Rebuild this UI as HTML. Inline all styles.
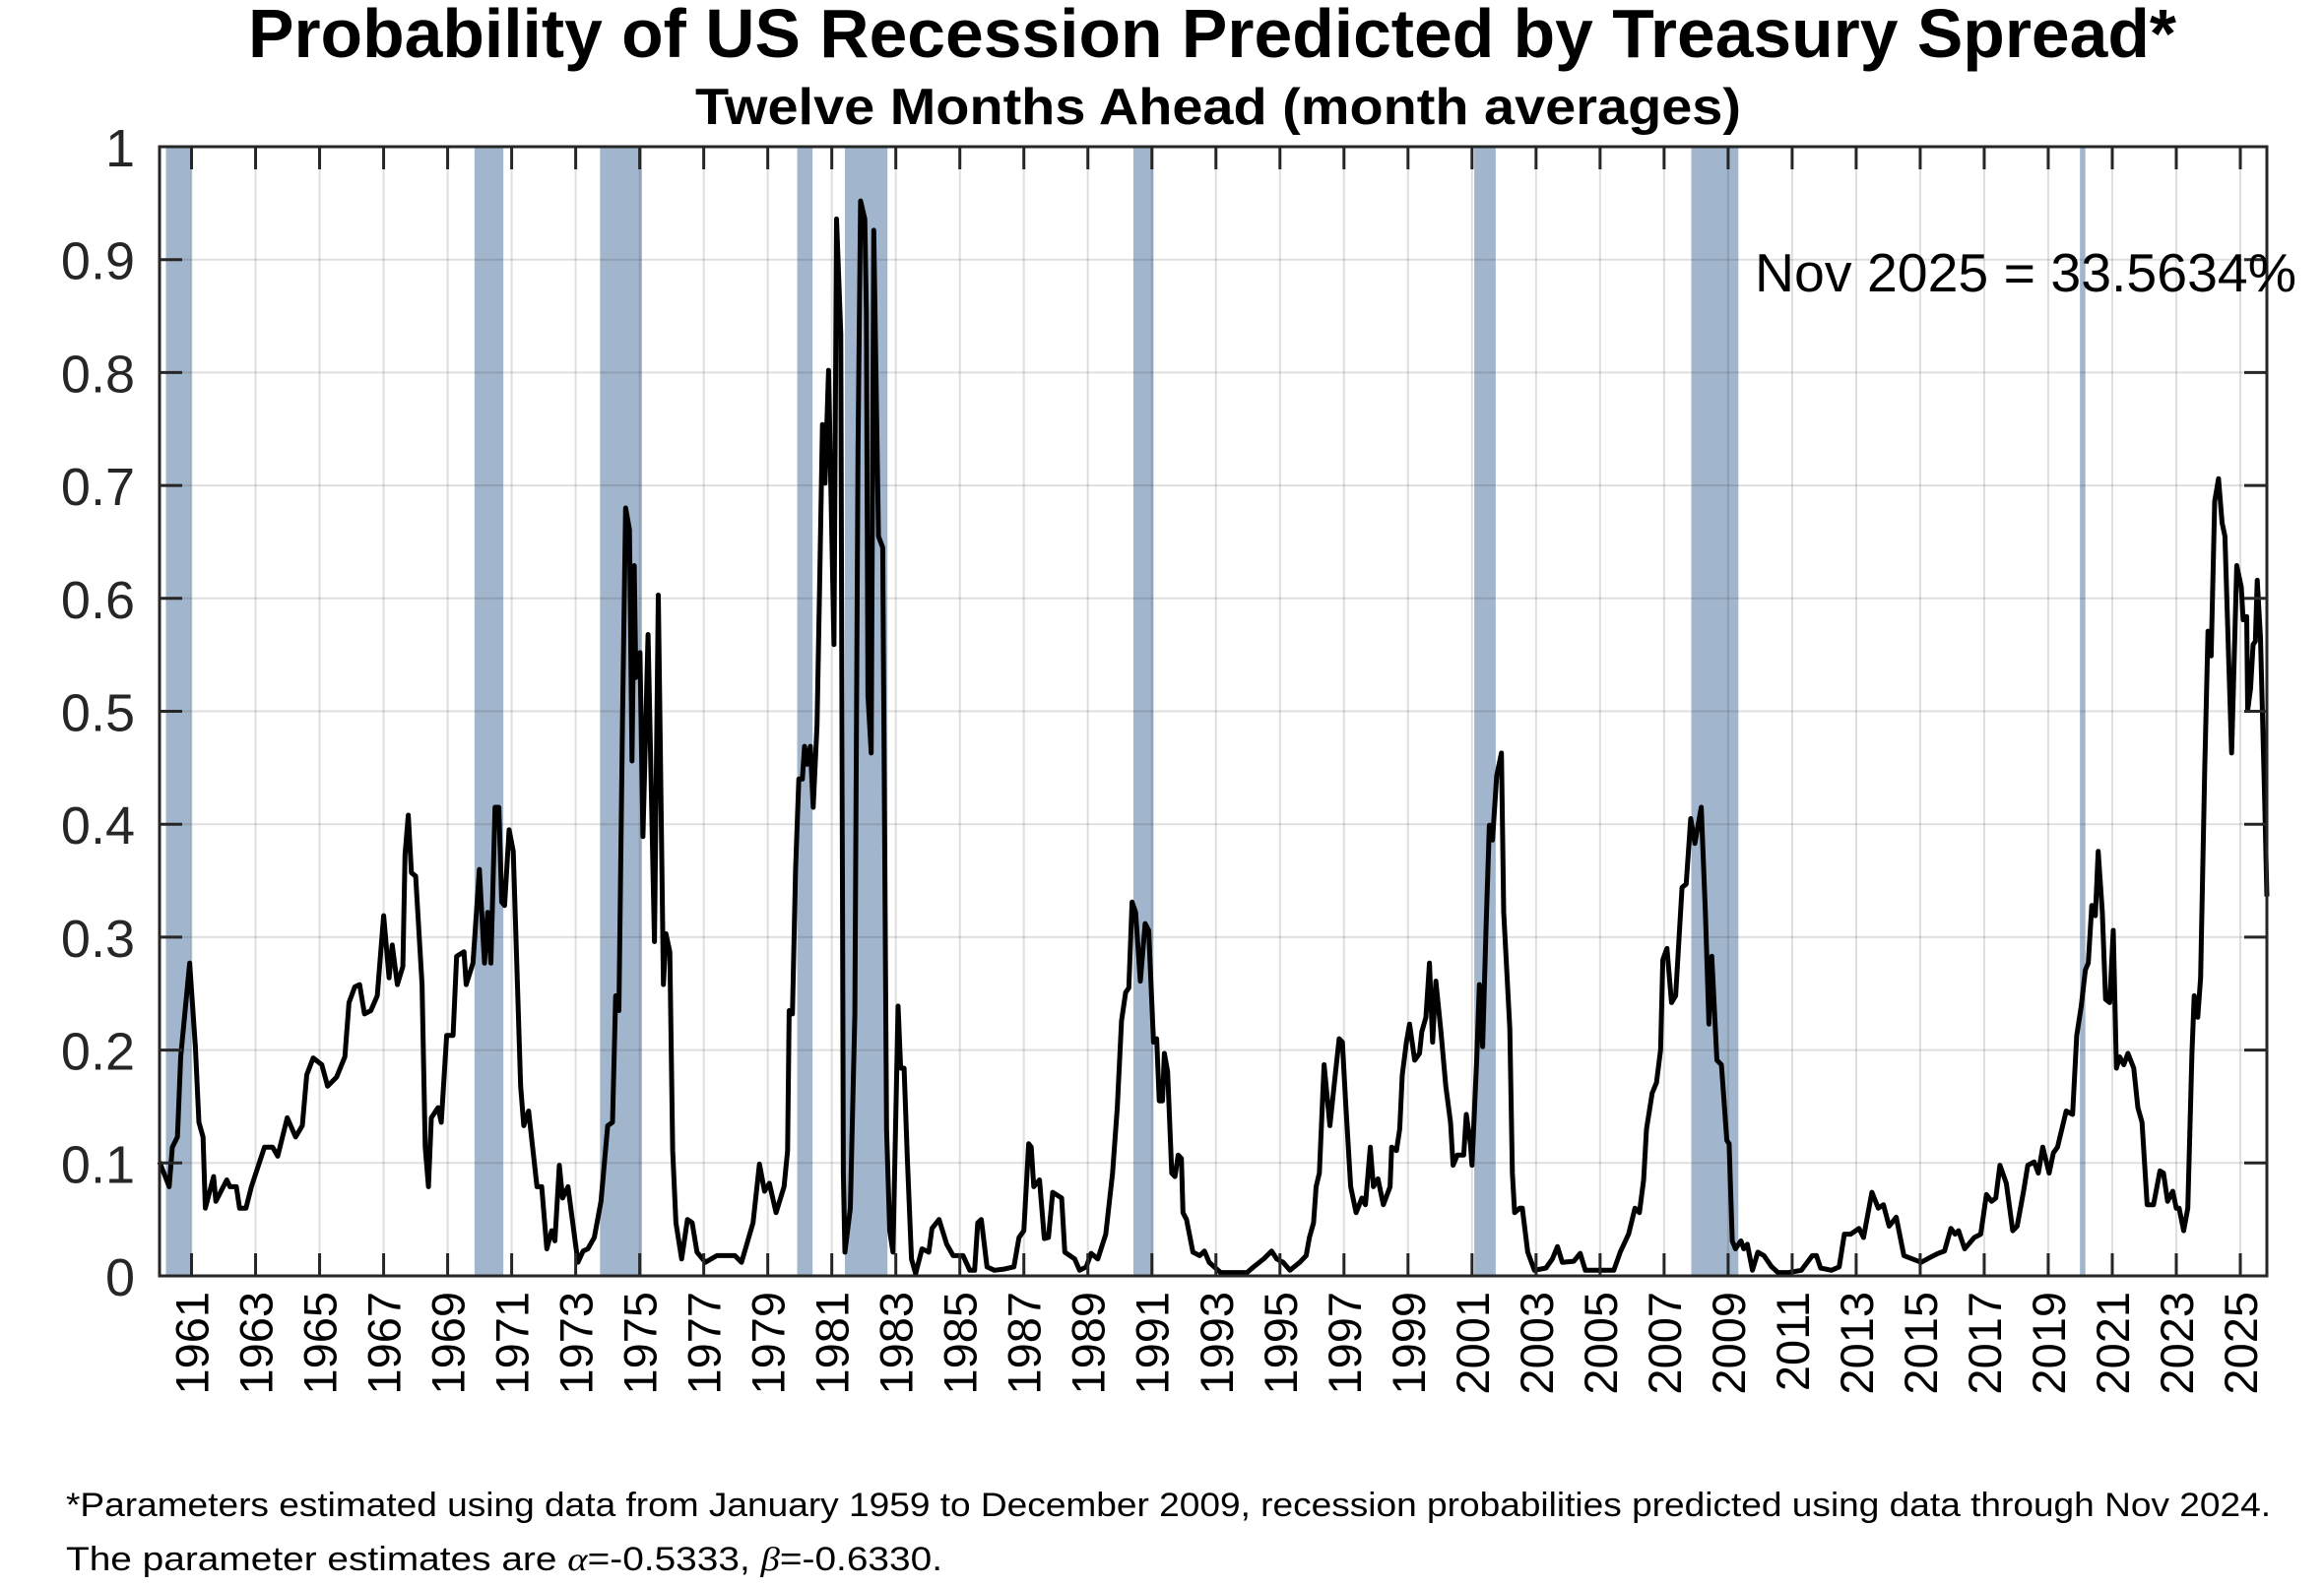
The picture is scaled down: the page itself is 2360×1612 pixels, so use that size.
<!DOCTYPE html>
<html><head><meta charset="utf-8"><title>Probability of US Recession</title>
<style>
html,body{margin:0;padding:0;background:#fff;}
svg{display:block;font-family:"Liberation Sans",Arial,sans-serif;}
</style></head>
<body>
<svg id="chart" xmlns="http://www.w3.org/2000/svg" width="2360" height="1612" viewBox="0 0 2360 1612">
<rect x="0" y="0" width="2360" height="1612" fill="#fff"/>
<text x="252" y="58" font-size="70" font-weight="bold" textLength="1958" lengthAdjust="spacingAndGlyphs">Probability of US Recession Predicted by Treasury Spread*</text>
<text x="706" y="126" font-size="52" font-weight="bold" textLength="1062" lengthAdjust="spacingAndGlyphs">Twelve Months Ahead (month averages)</text>
<g id="bands"></g>
<g id="grid"></g>
<g id="series"></g>
<g id="axes"></g>
<text x="1782" y="296" font-size="55" textLength="550" lengthAdjust="spacingAndGlyphs">Nov 2025 = 33.5634%</text>
<text x="67" y="1540" font-size="34" textLength="2239" lengthAdjust="spacingAndGlyphs">*Parameters estimated using data from January 1959 to December 2009, recession probabilities predicted using data through Nov 2024.</text>
<text x="67" y="1595" font-size="34" textLength="890" lengthAdjust="spacingAndGlyphs">The parameter estimates are <tspan font-family="Liberation Serif,serif" font-style="italic">α</tspan>=-0.5333, <tspan font-family="Liberation Serif,serif" font-style="italic">β</tspan>=-0.6330.</text>
</svg>
<script>
const recessionStarts = [1960.2, 1969.84, 1973.76, 1979.92, 1981.41, 1990.42, 2001.07, 2007.85, 2019.99];
const recessionEnds   = [1961.0, 1970.74, 1975.07, 1980.4, 1982.74, 1991.05, 2001.74, 2009.32, 2020.16];
const yTicks = [0,0.1,0.2,0.3,0.4,0.5,0.6,0.7,0.8,0.9,1];
const yTickLabels = ["0","0.1","0.2","0.3","0.4","0.5","0.6","0.7","0.8","0.9","1"];
const xTickYears = [1961,1963,1965,1967,1969,1971,1973,1975,1977,1979,1981,1983,1985,1987,1989,1991,1993,1995,1997,1999,2001,2003,2005,2007,2009,2011,2013,2015,2017,2019,2021,2023,2025];
const dates = [1960.0,1960.3,1960.4,1960.56,1960.66,1960.8,1960.94,1961.12,1961.23,1961.36,1961.43,1961.69,1961.76,1962.1,1962.2,1962.4,1962.5,1962.7,1962.87,1963.28,1963.53,1963.69,1963.99,1964.25,1964.46,1964.6,1964.8,1965.07,1965.25,1965.53,1965.79,1965.92,1966.1,1966.25,1966.4,1966.6,1966.8,1967.0,1967.17,1967.27,1967.43,1967.6,1967.67,1967.77,1967.87,1968.0,1968.2,1968.3,1968.4,1968.49,1968.7,1968.8,1968.97,1969.17,1969.28,1969.51,1969.58,1969.79,1969.99,1970.15,1970.25,1970.35,1970.48,1970.6,1970.69,1970.78,1970.92,1971.05,1971.28,1971.38,1971.53,1971.79,1971.94,1972.1,1972.25,1972.35,1972.49,1972.59,1972.76,1973.07,1973.23,1973.38,1973.58,1973.79,1974.0,1974.15,1974.25,1974.35,1974.46,1974.56,1974.68,1974.76,1974.83,1974.88,1975.01,1975.1,1975.26,1975.46,1975.58,1975.74,1975.82,1975.94,1976.03,1976.13,1976.31,1976.49,1976.64,1976.79,1977.05,1977.41,1977.67,1977.97,1978.18,1978.54,1978.74,1978.9,1979.05,1979.26,1979.51,1979.62,1979.67,1979.77,1979.87,1979.97,1980.08,1980.15,1980.23,1980.33,1980.42,1980.54,1980.62,1980.71,1980.79,1980.9,1981.07,1981.15,1981.28,1981.36,1981.41,1981.58,1981.72,1981.82,1981.9,1982.03,1982.08,1982.13,1982.23,1982.31,1982.46,1982.59,1982.71,1982.81,1982.91,1983.07,1983.15,1983.26,1983.36,1983.49,1983.62,1983.82,1984.03,1984.13,1984.35,1984.59,1984.79,1985.1,1985.31,1985.46,1985.56,1985.67,1985.85,1986.08,1986.38,1986.69,1986.85,1987.0,1987.15,1987.23,1987.31,1987.49,1987.64,1987.77,1987.9,1988.18,1988.28,1988.59,1988.74,1988.95,1989.1,1989.31,1989.56,1989.77,1989.92,1990.05,1990.18,1990.28,1990.38,1990.49,1990.64,1990.79,1990.9,1991.05,1991.15,1991.23,1991.33,1991.39,1991.49,1991.62,1991.72,1991.82,1991.92,1991.97,1992.08,1992.28,1992.49,1992.64,1992.79,1993.15,1993.56,1993.97,1994.18,1994.49,1994.74,1994.9,1995.1,1995.31,1995.62,1995.82,1995.92,1996.05,1996.13,1996.23,1996.38,1996.56,1996.74,1996.85,1996.95,1997.05,1997.21,1997.38,1997.56,1997.67,1997.82,1997.92,1998.06,1998.23,1998.44,1998.49,1998.64,1998.74,1998.82,1998.95,1999.05,1999.21,1999.36,1999.43,1999.56,1999.67,1999.77,1999.87,2000.03,2000.18,2000.33,2000.41,2000.54,2000.74,2000.82,2000.95,2001.0,2001.15,2001.23,2001.33,2001.44,2001.54,2001.64,2001.77,2001.92,2001.99,2002.18,2002.26,2002.33,2002.49,2002.57,2002.74,2002.95,2003.31,2003.51,2003.67,2003.82,2004.18,2004.38,2004.54,2005.05,2005.43,2005.63,2005.89,2006.09,2006.23,2006.36,2006.45,2006.63,2006.76,2006.89,2006.96,2007.09,2007.23,2007.36,2007.56,2007.69,2007.83,2007.96,2008.16,2008.29,2008.4,2008.49,2008.65,2008.79,2008.96,2009.03,2009.13,2009.23,2009.4,2009.49,2009.6,2009.76,2009.93,2010.12,2010.36,2010.56,2010.89,2011.29,2011.63,2011.76,2011.89,2012.23,2012.47,2012.63,2012.83,2013.09,2013.23,2013.49,2013.69,2013.85,2014.03,2014.25,2014.49,2014.76,2015.03,2015.29,2015.56,2015.76,2015.96,2016.09,2016.2,2016.39,2016.69,2016.89,2017.07,2017.23,2017.36,2017.49,2017.69,2017.89,2018.03,2018.23,2018.36,2018.56,2018.69,2018.83,2019.03,2019.16,2019.29,2019.56,2019.76,2019.89,2020.03,2020.16,2020.25,2020.36,2020.47,2020.56,2020.69,2020.79,2020.92,2021.03,2021.13,2021.23,2021.36,2021.49,2021.67,2021.8,2021.93,2022.09,2022.29,2022.49,2022.6,2022.73,2022.89,2023.0,2023.09,2023.23,2023.36,2023.49,2023.56,2023.67,2023.76,2023.89,2023.99,2024.09,2024.2,2024.32,2024.43,2024.52,2024.63,2024.73,2024.89,2025.03,2025.09,2025.2,2025.23,2025.32,2025.4,2025.47,2025.53,2025.63,2025.76,2025.83];
const probabilities = [0.101,0.079,0.114,0.123,0.194,0.235,0.277,0.203,0.136,0.123,0.06,0.088,0.066,0.085,0.079,0.079,0.06,0.06,0.079,0.114,0.114,0.106,0.14,0.123,0.133,0.178,0.193,0.187,0.168,0.176,0.194,0.242,0.256,0.258,0.232,0.235,0.248,0.319,0.264,0.293,0.258,0.274,0.373,0.408,0.357,0.354,0.258,0.114,0.079,0.14,0.149,0.136,0.213,0.213,0.283,0.287,0.258,0.277,0.36,0.277,0.322,0.277,0.415,0.415,0.331,0.328,0.395,0.376,0.168,0.133,0.146,0.079,0.079,0.024,0.04,0.031,0.098,0.069,0.079,0.012,0.022,0.024,0.034,0.066,0.133,0.136,0.248,0.235,0.488,0.68,0.661,0.456,0.629,0.53,0.552,0.389,0.568,0.296,0.603,0.258,0.303,0.287,0.111,0.047,0.015,0.05,0.047,0.021,0.012,0.018,0.018,0.018,0.012,0.047,0.099,0.075,0.082,0.056,0.079,0.111,0.235,0.232,0.36,0.44,0.44,0.469,0.453,0.469,0.415,0.488,0.61,0.754,0.702,0.802,0.559,0.936,0.834,0.091,0.021,0.06,0.232,0.731,0.952,0.936,0.853,0.514,0.463,0.926,0.655,0.645,0.13,0.04,0.021,0.239,0.184,0.184,0.104,0.015,0.002,0.024,0.021,0.042,0.05,0.028,0.018,0.018,0.005,0.005,0.047,0.05,0.008,0.005,0.006,0.008,0.034,0.04,0.117,0.114,0.079,0.085,0.033,0.034,0.074,0.069,0.021,0.015,0.005,0.008,0.02,0.015,0.037,0.091,0.149,0.226,0.251,0.255,0.331,0.322,0.261,0.312,0.306,0.207,0.21,0.155,0.155,0.197,0.181,0.091,0.088,0.107,0.104,0.056,0.05,0.021,0.018,0.022,0.012,0.003,0.003,0.003,0.008,0.015,0.022,0.015,0.012,0.005,0.012,0.018,0.034,0.047,0.079,0.091,0.187,0.133,0.181,0.21,0.207,0.155,0.079,0.056,0.069,0.063,0.114,0.079,0.086,0.063,0.079,0.114,0.111,0.13,0.178,0.207,0.223,0.191,0.197,0.216,0.229,0.277,0.207,0.261,0.216,0.168,0.136,0.098,0.107,0.107,0.143,0.117,0.098,0.194,0.258,0.203,0.309,0.399,0.386,0.443,0.463,0.322,0.219,0.091,0.056,0.06,0.06,0.021,0.005,0.007,0.015,0.026,0.012,0.013,0.02,0.005,0.005,0.005,0.021,0.037,0.06,0.056,0.085,0.13,0.162,0.171,0.2,0.28,0.29,0.242,0.248,0.344,0.347,0.405,0.383,0.415,0.322,0.223,0.283,0.191,0.187,0.12,0.117,0.031,0.024,0.031,0.024,0.028,0.005,0.021,0.018,0.008,0.003,0.003,0.005,0.018,0.018,0.007,0.005,0.008,0.037,0.037,0.042,0.034,0.074,0.06,0.063,0.044,0.052,0.018,0.015,0.012,0.016,0.02,0.022,0.042,0.037,0.04,0.024,0.034,0.037,0.072,0.066,0.069,0.098,0.082,0.04,0.044,0.075,0.098,0.101,0.091,0.114,0.091,0.109,0.114,0.146,0.143,0.213,0.239,0.271,0.277,0.328,0.319,0.376,0.322,0.245,0.242,0.306,0.184,0.194,0.187,0.197,0.184,0.149,0.136,0.063,0.063,0.093,0.091,0.066,0.075,0.06,0.06,0.04,0.06,0.197,0.248,0.229,0.264,0.45,0.571,0.549,0.686,0.706,0.667,0.655,0.552,0.463,0.629,0.61,0.581,0.584,0.501,0.52,0.559,0.562,0.616,0.565,0.424,0.336];

const NS = "http://www.w3.org/2000/svg";
const L = 162, R = 2302, T = 149, B = 1296;
const X0 = 1960.0, X1 = 2025.83;
function xScale(v){ return L + (v - X0) / (X1 - X0) * (R - L); }
function yScale(v){ return B - v * (B - T); }
function mk(tag, attrs, parent){ const e = document.createElementNS(NS, tag); for (const k in attrs) e.setAttribute(k, attrs[k]); parent.appendChild(e); return e; }

const gb = document.getElementById('bands');
recessionStarts.forEach((s, i) => {
  const r = mk('rect', {x: xScale(s), y: T, width: xScale(recessionEnds[i]) - xScale(s), height: B - T, fill: '#a1b5cc'}, gb);
  
  
});

const gg = document.getElementById('grid');
yTicks.forEach(v => {
  const l = mk('line', {x1: L, x2: R, y1: yScale(v), y2: yScale(v), stroke: '#262626', 'stroke-opacity': 0.15, 'stroke-width': 2}, gg);
  
  
});
xTickYears.forEach(v => {
  const l = mk('line', {x1: xScale(v), x2: xScale(v), y1: T, y2: B, stroke: '#262626', 'stroke-opacity': 0.15, 'stroke-width': 2}, gg);
  
  
});

const gs = document.getElementById('series');
const pts = dates.map((d, i) => xScale(d).toFixed(1) + ',' + yScale(probabilities[i]).toFixed(1)).join(' ');
const pl = mk('polyline', {points: pts, fill: 'none', stroke: '#000', 'stroke-width': 5, 'stroke-linejoin': 'round'}, gs);



const ga = document.getElementById('axes');
const box = mk('rect', {x: L, y: T, width: R - L, height: B - T, fill: 'none', stroke: '#262626', 'stroke-width': 3}, ga);


yTicks.forEach((v, i) => {
  const y = yScale(v);
  mk('line', {x1: L, x2: L + 23, y1: y, y2: y, stroke: '#262626', 'stroke-width': 3}, ga);
  mk('line', {x1: R - 23, x2: R, y1: y, y2: y, stroke: '#262626', 'stroke-width': 3}, ga);
  const t = mk('text', {x: 137, y: y + 20, 'text-anchor': 'end', 'font-size': 54, fill: '#262626'}, ga);
  t.textContent = yTickLabels[i];
  
  
});
xTickYears.forEach(v => {
  const x = xScale(v);
  mk('line', {x1: x, x2: x, y1: B - 23, y2: B, stroke: '#262626', 'stroke-width': 3}, ga);
  mk('line', {x1: x, x2: x, y1: T, y2: T + 23, stroke: '#262626', 'stroke-width': 3}, ga);
  const t = mk('text', {x: 0, y: 0, 'text-anchor': 'end', 'font-size': 47, fill: '#000', transform: 'translate(' + (x + 17) + ',1312) rotate(-90)'}, ga);
  t.textContent = String(v);
  
  
});
</script>
</body></html>
